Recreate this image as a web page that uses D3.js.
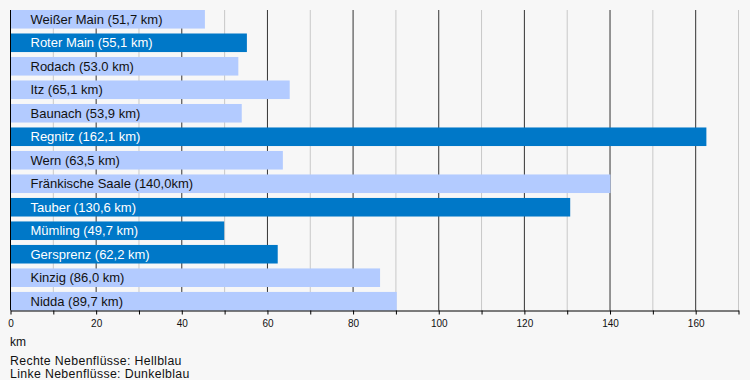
<!DOCTYPE html>
<html><head><meta charset="utf-8">
<script src="https://cdn.jsdelivr.net/npm/d3@7"></script>
<style>html,body{margin:0;padding:0;background:#f7f7f7;}svg{display:block;font-family:"Liberation Sans",Arial,sans-serif;}</style>
</head><body>
<script>
const categories = ["Weißer Main (51,7 km)","Roter Main (55,1 km)","Rodach (53.0 km)","Itz (65,1 km)","Baunach (53,9 km)","Regnitz (162,1 km)","Wern (63,5 km)","Fränkische Saale (140,0km)","Tauber (130,6 km)","Mümling (49,7 km)","Gersprenz (62,2 km)","Kinzig (86,0 km)","Nidda (89,7 km)"];
const lengths = [45.4, 55.2, 53.2, 65.2, 54.0, 162.5, 63.6, 140.1, 130.7, 49.9, 62.4, 86.3, 90.2];
const sides = ["R","L","R","R","R","L","R","R","L","L","L","R","R"];
const tickValues = [0,20,40,60,80,100,120,140,160];
const axisTitle = "km";
const legendLines = ["Rechte Nebenflüsse: Hellblau","Linke Nebenflüsse: Dunkelblau"];

(function(){
const W=750,H=380;
const svg=d3.select("body").append("svg").attr("width",W).attr("height",H);
svg.append("rect").attr("width",W).attr("height",H).attr("fill","#f7f7f7");
const x=d3.scaleLinear().domain([0,170]).range([10.5,738.5]);
const y=d3.scaleBand().domain(categories).range([10,310.5]).paddingInner(0.21).paddingOuter(0);
const yTop=10,yBot=310.5;
const minor=d3.range(10,171,20);
svg.append("g").selectAll("line").data(minor).join("line")
  .attr("x1",d=>x(d)).attr("x2",d=>x(d)).attr("y1",yTop).attr("y2",yBot)
  .attr("stroke","#c8c8c8").attr("stroke-width",1);
svg.append("g").selectAll("line").data(tickValues.slice(1)).join("line")
  .attr("x1",d=>x(d)).attr("x2",d=>x(d)).attr("y1",yTop).attr("y2",yBot)
  .attr("stroke","#333").attr("stroke-width",1);
const colors={R:"#b3cbff",L:"#0078c8"};
svg.append("g").selectAll("rect").data(categories).join("rect")
  .attr("x",x(0)+0.5).attr("y",d=>y(d)).attr("height",y.bandwidth())
  .attr("width",(d,i)=>x(lengths[i])-x(0)-0.5).attr("fill",(d,i)=>colors[sides[i]]);
svg.append("g").selectAll("text").data(categories).join("text")
  .attr("x",30.5).attr("y",d=>y(d)+y.bandwidth()/2).attr("dy","0.36em")
  .attr("font-size",13).attr("fill",(d,i)=>sides[i]==="L"?"#fff":"#111").text(d=>d);
svg.append("line").attr("x1",x(0)).attr("x2",x(0)).attr("y1",yTop).attr("y2",yBot).attr("stroke","#000");
const ax=svg.append("g").attr("transform",`translate(0,${yBot})`)
  .call(d3.axisBottom(x).tickValues(d3.range(0,171,10)).tickSize(4).tickSizeOuter(0).tickFormat(d=>tickValues.includes(d)?d:""));
ax.select(".domain").attr("stroke","#000");
ax.selectAll("text").attr("font-size",10).attr("font-family","Liberation Sans, Arial, sans-serif").attr("fill","#111").attr("dy","0.95em");
svg.append("text").attr("x",10).attr("y",346).attr("font-size",12).attr("fill","#111").text(axisTitle);
svg.selectAll(".leg").data(legendLines).join("text").attr("class","leg")
  .attr("x",10).attr("y",(d,i)=>365+i*13.3).attr("font-size",12.3).attr("letter-spacing",0.35).attr("fill","#111").text(d=>d);
})();
</script>
</body></html>
